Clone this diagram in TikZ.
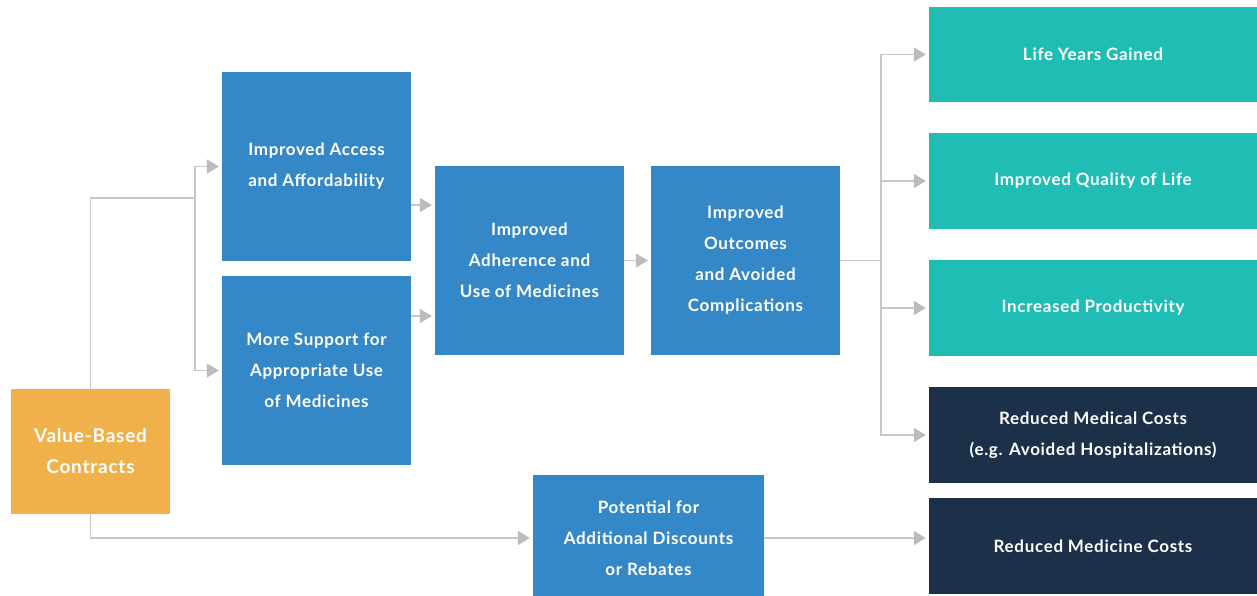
\documentclass[tikz,border=0pt]{standalone}
\usepackage{fontspec}
\setmainfont{Lato}[UprightFont=* Bold, LetterSpace=4]
\usetikzlibrary{arrows.meta,calc}
\definecolor{cblue}{HTML}{3588C8}
\definecolor{cteal}{HTML}{20BDB5}
\definecolor{cnavy}{HTML}{1C3049}
\definecolor{corange}{HTML}{F0B04A}
\definecolor{cline}{HTML}{C8C8CB}
\definecolor{chead}{HTML}{BBBBC0}
\tikzset{
  box/.style={draw=none, text=white, align=center, inner sep=0pt,
    font=\fontsize{17}{31}\selectfont},
  conn/.style={draw=cline, line width=1.8pt},
  arr/.style={conn, -{Triangle[length=12pt,width=14pt,color=chead]}, shorten >=3pt},
}
\begin{document}
\begin{tikzpicture}[x=1pt,y=-1pt]
\useasboundingbox (0,0) rectangle (1257,596);
\clip (0,0) rectangle (1257,596);
\fill[white] (0,0) rectangle (1257,596);

% source and intermediate steps
\node[box, fill=corange, minimum width=159pt, minimum height=125pt, font=\fontsize{19}{31}\selectfont]
  (vbc) at (90.5,451.5) {Value-Based\\Contracts};
\node[box, fill=cblue, minimum width=189pt, minimum height=189pt]
  (acc) at (316.5,166.5) {Improved Access\\and Affordability};
\node[box, fill=cblue, minimum width=189pt, minimum height=189pt]
  (sup) at (316.5,370.5) {More Support for\\Appropriate Use\\of Medicines};
\node[box, fill=cblue, minimum width=189pt, minimum height=189pt]
  (adh) at (529.5,260.5) {Improved\\Adherence and\\Use of Medicines};
\node[box, fill=cblue, minimum width=189pt, minimum height=189pt]
  (out) at (745.5,260.5) {Improved\\Outcomes\\and Avoided\\Complications};
\node[box, fill=cblue, minimum width=231pt, minimum height=126pt]
  (pot) at (648.5,538) {Potential for\\Additional Discounts\\or Rebates};

% results
\node[box, fill=cteal, minimum width=328pt, minimum height=95pt]
  (ly) at (1093,54.5) {Life Years Gained};
\node[box, fill=cteal, minimum width=328pt, minimum height=96pt]
  (qol) at (1093,181) {Improved Quality of Life};
\node[box, fill=cteal, minimum width=328pt, minimum height=96pt]
  (prod) at (1093,308) {Increased Productivity};
\node[box, fill=cnavy, minimum width=328pt, minimum height=96pt]
  (med) at (1093,435) {Reduced Medical Costs\\(e.g. Avoided Hospitalizations)};
\node[box, fill=cnavy, minimum width=328pt, minimum height=96pt]
  (mc) at (1093,546) {Reduced Medicine Costs};

% branch points
\coordinate (j1) at (195,198);
\coordinate (fan) at (881,260.5);

% connectors
\draw[conn] (vbc.north) |- (j1);
\draw[arr] (j1) |- (acc.west);
\draw[arr] (j1) |- (sup.west);
\draw[arr] ($(acc.east)+(0,38.5)$) -- ($(adh.west|-acc.east)+(0,38.5)$);
\draw[arr] ($(sup.east)+(0,-54.5)$) -- ($(adh.west|-sup.east)+(0,-54.5)$);
\draw[arr] (adh.east) -- (out.west);
\draw[conn] (out.east) -- (fan);
\draw[arr] (fan) |- (ly.west);
\draw[arr] (fan) |- (qol.west);
\draw[arr] (fan) |- (prod.west);
\draw[arr] (fan) |- (med.west);
\draw[arr] (vbc.south) |- (pot.west);
\draw[arr] (pot.east) -- (pot.east -| mc.west);
\end{tikzpicture}
\end{document}
